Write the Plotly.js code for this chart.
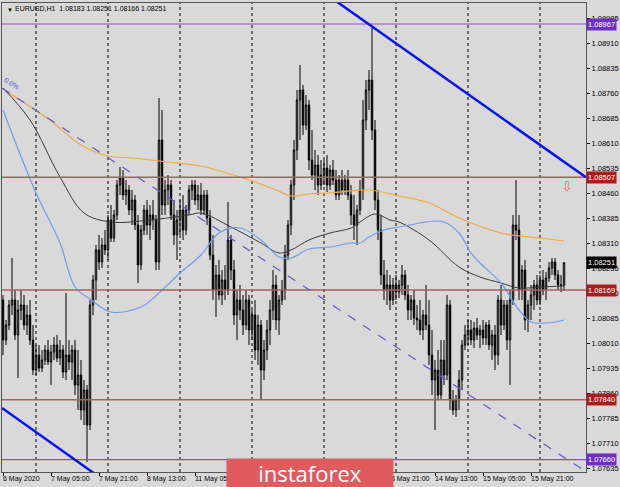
<!DOCTYPE html>
<html><head><meta charset="utf-8">
<script src="https://cdn.plot.ly/plotly-3.0.1.min.js"></script>
<style>html,body{margin:0;padding:0;background:#d9d9d9;}#chart{width:620px;height:487px;}</style>
</head><body><div id="chart"></div>
<script>
// EURUSD H1 candles, 6 May 2020 13:00 -> 18 May 2020 08:00 (bar index 0..187)
const openP = [1.08139,1.08019,1.08064,1.08124,1.08139,1.08034,1.08109,1.08124,1.08064,1.08094,
1.08019,1.07929,1.07974,1.07935,1.07959,1.07989,1.07953,1.07983,1.08004,1.07965,
1.07989,1.07923,1.07974,1.07953,1.07989,1.07884,1.07914,1.07809,1.07869,1.07764,
1.08124,1.08199,1.08289,1.08253,1.08304,1.08289,1.08379,1.08325,1.08394,1.08484,
1.08505,1.08454,1.08469,1.08409,1.08439,1.08364,1.08244,1.08349,1.08409,1.08364,
1.08394,1.08379,1.08253,1.08619,1.08424,1.08469,1.08484,1.08394,1.08334,1.08379,
1.08409,1.08349,1.08409,1.08469,1.08484,1.08439,1.08454,1.08409,1.08454,1.08385,
1.08274,1.08169,1.08214,1.08154,1.08199,1.08169,1.08319,1.08229,1.08094,1.08139,
1.08109,1.08064,1.08139,1.08049,1.08094,1.07989,1.08064,1.07929,1.07989,1.08049,
1.08109,1.08184,1.08079,1.08139,1.08169,1.08274,1.08364,1.08484,1.08589,1.08739,
1.08769,1.08664,1.08724,1.08559,1.08514,1.08544,1.08484,1.08514,1.08535,1.08484,
1.08529,1.08499,1.08454,1.08499,1.08469,1.08499,1.08454,1.08394,1.08364,1.08409,
1.08469,1.08679,1.08769,1.08799,1.08649,1.08439,1.08349,1.08214,1.08169,1.08184,
1.08139,1.08184,1.08163,1.08184,1.08214,1.08154,1.08109,1.08139,1.08085,1.08079,
1.08049,1.08094,1.08064,1.07974,1.07899,1.07929,1.07854,1.07959,1.07914,1.08124,
1.07839,1.07809,1.07839,1.07899,1.08004,1.08034,1.08049,1.08019,1.08055,1.08034,
1.08049,1.08025,1.08064,1.08004,1.08034,1.07974,1.08139,1.08064,1.08124,1.08019,
1.08139,1.08364,1.08349,1.08169,1.08229,1.08079,1.08124,1.08154,1.08184,1.08139,
1.08199,1.08169,1.08205,1.08235,1.08253,1.08214,1.08184,1.08183];
const highP = [1.08154,1.08079,1.08139,1.08265,1.08169,1.08139,1.08169,1.08154,1.08124,1.08139,
1.08064,1.08004,1.08004,1.07989,1.08004,1.08019,1.08004,1.08028,1.08034,1.08019,
1.08004,1.08160,1.08019,1.08004,1.08019,1.07989,1.07959,1.07899,1.07884,1.08139,
1.08214,1.08304,1.08334,1.08325,1.08349,1.08394,1.08424,1.08409,1.08499,1.08538,
1.08529,1.08499,1.08484,1.08469,1.08454,1.08394,1.08364,1.08424,1.08439,1.08424,
1.08439,1.08394,1.08745,1.08709,1.08499,1.08514,1.08499,1.08439,1.08409,1.08439,
1.08454,1.08424,1.08484,1.08499,1.08499,1.08484,1.08490,1.08469,1.08469,1.08409,
1.08334,1.08244,1.08259,1.08229,1.08244,1.08433,1.08334,1.08259,1.08169,1.08184,
1.08154,1.08169,1.08154,1.08109,1.08139,1.08094,1.08079,1.08019,1.08079,1.08139,
1.08229,1.08214,1.08154,1.08199,1.08304,1.08379,1.08499,1.08619,1.08769,1.08844,
1.08784,1.08754,1.08739,1.08649,1.08589,1.08574,1.08559,1.08559,1.08574,1.08544,
1.08559,1.08529,1.08514,1.08529,1.08514,1.08529,1.08484,1.08454,1.08424,1.08499,
1.08739,1.08799,1.08829,1.08955,1.08679,1.08469,1.08394,1.08259,1.08229,1.08214,
1.08205,1.08214,1.08199,1.08244,1.08229,1.08184,1.08154,1.08169,1.08124,1.08139,
1.08109,1.08184,1.08139,1.08049,1.07959,1.07989,1.08019,1.08019,1.08154,1.08139,
1.07869,1.07854,1.07929,1.08019,1.08064,1.08079,1.08079,1.08073,1.08085,1.08064,
1.08079,1.08073,1.08079,1.08049,1.08064,1.08154,1.08184,1.08139,1.08139,1.08169,
1.08394,1.08499,1.08394,1.08244,1.08259,1.08139,1.08184,1.08199,1.08214,1.08214,
1.08229,1.08223,1.08253,1.08265,1.08265,1.08229,1.08214,1.08251];
const lowP = [1.07974,1.08004,1.08049,1.08094,1.08019,1.07905,1.08079,1.08049,1.08034,1.08004,
1.07914,1.07914,1.07923,1.07923,1.07944,1.07944,1.07884,1.07959,1.07953,1.07944,
1.07905,1.07899,1.07929,1.07899,1.07854,1.07809,1.07779,1.07764,1.07653,1.07749,
1.08094,1.08139,1.08229,1.08235,1.08274,1.08259,1.08313,1.08313,1.08379,1.08454,
1.08439,1.08424,1.08394,1.08364,1.08349,1.08190,1.08229,1.08334,1.08334,1.08319,
1.08349,1.08229,1.08229,1.08394,1.08394,1.08424,1.08379,1.08304,1.08259,1.08334,
1.08319,1.08334,1.08394,1.08439,1.08424,1.08409,1.08394,1.08394,1.08364,1.08259,
1.08139,1.08088,1.08139,1.08124,1.08139,1.08154,1.08199,1.08064,1.08019,1.08079,
1.08034,1.08049,1.08004,1.08019,1.07959,1.07944,1.07839,1.07899,1.07959,1.08004,
1.08079,1.08049,1.08034,1.08124,1.08139,1.08259,1.08334,1.08439,1.08559,1.08619,
1.08634,1.08649,1.08529,1.08499,1.08469,1.08454,1.08469,1.08484,1.08463,1.08469,
1.08484,1.08439,1.08439,1.08454,1.08454,1.08439,1.08364,1.08319,1.08304,1.08394,
1.08439,1.08649,1.08709,1.08619,1.08409,1.08319,1.08184,1.08139,1.08124,1.08109,
1.08124,1.08139,1.08145,1.08154,1.08139,1.08079,1.08079,1.08064,1.08049,1.08034,
1.08019,1.08049,1.07944,1.07854,1.07749,1.07839,1.07839,1.07884,1.07899,1.07809,
1.07794,1.07788,1.07809,1.07869,1.07989,1.08004,1.08004,1.07995,1.08019,1.07995,
1.08004,1.08004,1.07989,1.07959,1.07929,1.07944,1.08034,1.08049,1.07989,1.07884,
1.08124,1.08319,1.08139,1.08139,1.08049,1.08043,1.08079,1.08109,1.08124,1.08124,
1.08154,1.08139,1.08193,1.08214,1.08199,1.08169,1.08163,1.08166];
const closeP = [1.08019,1.08064,1.08124,1.08139,1.08034,1.08109,1.08124,1.08064,1.08094,1.08019,
1.07929,1.07974,1.07935,1.07959,1.07989,1.07953,1.07983,1.08004,1.07965,1.07989,
1.07923,1.07974,1.07953,1.07989,1.07884,1.07914,1.07809,1.07869,1.07764,1.08124,
1.08199,1.08289,1.08253,1.08304,1.08289,1.08379,1.08325,1.08394,1.08484,1.08505,
1.08454,1.08469,1.08409,1.08439,1.08364,1.08244,1.08349,1.08409,1.08364,1.08394,
1.08379,1.08253,1.08619,1.08424,1.08469,1.08484,1.08394,1.08334,1.08379,1.08409,
1.08349,1.08409,1.08469,1.08484,1.08439,1.08454,1.08409,1.08454,1.08385,1.08274,
1.08169,1.08214,1.08154,1.08199,1.08169,1.08319,1.08229,1.08094,1.08139,1.08109,
1.08064,1.08139,1.08049,1.08094,1.07989,1.08064,1.07929,1.07989,1.08049,1.08109,
1.08184,1.08079,1.08139,1.08169,1.08274,1.08364,1.08484,1.08589,1.08739,1.08769,
1.08664,1.08724,1.08559,1.08514,1.08544,1.08484,1.08514,1.08535,1.08484,1.08529,
1.08499,1.08454,1.08499,1.08469,1.08499,1.08454,1.08394,1.08364,1.08409,1.08469,
1.08679,1.08769,1.08799,1.08649,1.08439,1.08349,1.08214,1.08169,1.08184,1.08139,
1.08184,1.08163,1.08184,1.08214,1.08154,1.08109,1.08139,1.08085,1.08079,1.08049,
1.08094,1.08064,1.07974,1.07899,1.07929,1.07854,1.07959,1.07914,1.08124,1.07839,
1.07809,1.07839,1.07899,1.08004,1.08034,1.08049,1.08019,1.08055,1.08034,1.08049,
1.08025,1.08064,1.08004,1.08034,1.07974,1.08139,1.08064,1.08124,1.08019,1.08139,
1.08364,1.08349,1.08169,1.08229,1.08079,1.08124,1.08154,1.08184,1.08139,1.08199,
1.08169,1.08205,1.08235,1.08253,1.08214,1.08184,1.08183,1.08251];

// Moving averages (bar index, price)
const maSlowX = [0,16,26,35,43,55,66,82,91,96,102,109,122,132,142,152,166,179,187];
const maSlowY = [1.08772,1.08676,1.08604,1.08571,1.08565,1.08553,1.08541,1.08499,1.08469,1.08451,1.08457,1.08460,1.08469,1.08451,1.08430,1.08385,1.08340,1.08325,1.08316];
const maMidX = [0,9,19,27,36,49,62,66,76,86,92,96,102,109,116,119,124,129,132,142,152,159,166,172,179,187];
const maMidY = [1.08775,1.08679,1.08508,1.08400,1.08373,1.08379,1.08394,1.08400,1.08358,1.08310,1.08280,1.08289,1.08319,1.08340,1.08355,1.08373,1.08397,1.08379,1.08373,1.08319,1.08238,1.08208,1.08190,1.08175,1.08178,1.08181];
const maFastX = [0,11,19,24,29,36,46,52,59,66,72,79,86,92,96,102,109,116,119,122,127,132,139,144,147,152,156,159,166,172,176,181,184,187];
const maFastY = [1.08709,1.08460,1.08310,1.08178,1.08142,1.08103,1.08118,1.08160,1.08220,1.08274,1.08340,1.08355,1.08319,1.08268,1.08265,1.08292,1.08298,1.08310,1.08310,1.08328,1.08349,1.08358,1.08370,1.08376,1.08373,1.08340,1.08280,1.08250,1.08190,1.08109,1.08073,1.08070,1.08073,1.08079];

// Levels
const resLevels = [1.08507, 1.08169, 1.07840];
const purpleLevels = [1.08967, 1.07660];
const lastPrice = 1.08251;

// Axis ticks
const yTicks = [1.07635,1.07710,1.07785,1.07860,1.07935,1.08010,1.08085,1.08160,1.08235,1.08310,1.08385,1.08460,1.08535,1.08610,1.08685,1.08760,1.08835,1.08910,1.08985];
const xTickBars = [0,16,32,48,64,80,96,112,128,144,160,176];
const xLabelBars = [0,16,32,48,64,128,144,160,176];
const xLabels = ["6 May 2020","7 May 05:00","7 May 21:00","8 May 13:00","11 May 05:00","13 May 21:00","14 May 13:00","15 May 05:00","15 May 21:00"];
const dayStartBars = [11,35,59,83,107,131,155,179];

const bars = openP.map((_, i) => i);
const FONT = 'Liberation Sans, Arial, sans-serif';

const traces = [
  {type:'scatter', mode:'lines', x:maSlowX, y:maSlowY, line:{color:'#f2a93b', width:1.2, shape:'spline'}, hoverinfo:'skip'},
  {type:'scatter', mode:'lines', x:maMidX, y:maMidY, line:{color:'#3a3a3a', width:1, shape:'spline'}, hoverinfo:'skip'},
  {type:'scatter', mode:'lines', x:maFastX, y:maFastY, line:{color:'#6e9cf0', width:1.2, shape:'spline'}, hoverinfo:'skip'},
  {type:'candlestick', x:bars, open:openP, high:highP, low:lowP, close:closeP,
   increasing:{line:{color:'#000', width:1}, fillcolor:'#bdbdbd'},
   decreasing:{line:{color:'#000', width:1}, fillcolor:'#000'},
   whiskerwidth:0, hoverinfo:'skip'}
];

const shapes = [];
dayStartBars.forEach(b => shapes.push({type:'line', xref:'x', yref:'paper', x0:b, x1:b, y0:0, y1:1, layer:'below', line:{color:'#000', width:1, dash:'dot'}}));
resLevels.forEach(v => shapes.push({type:'line', xref:'paper', yref:'y', x0:0, x1:1, y0:v, y1:v, line:{color:'#b45a5a', width:1.5}}));
purpleLevels.forEach(v => shapes.push({type:'line', xref:'paper', yref:'y', x0:0, x1:1, y0:v, y1:v, line:{color:'#8a4fd0', width:1.2}}));
// trend lines
shapes.push({type:'line', xref:'x', yref:'y', x0:-0.33, y0:1.08775, x1:195, y1:1.07620, line:{color:'#5b5bc8', width:1.2, dash:'dash'}});
shapes.push({type:'line', xref:'x', yref:'y', x0:110, y0:1.09042, x1:194.3, y1:1.08507, line:{color:'#0a14f0', width:2.5}});
shapes.push({type:'line', xref:'x', yref:'y', x0:-0.33, y0:1.07815, x1:31, y1:1.07615, line:{color:'#0a14f0', width:2.5}});

const annotations = [];
annotations.push({xref:'paper', yref:'paper', x:0, y:1, xanchor:'left', yanchor:'top', xshift:3, yshift:-2, showarrow:false, text:'▼', font:{family:FONT, size:6, color:'#000'}});
annotations.push({xref:'paper', yref:'paper', x:0, y:1, xanchor:'left', yanchor:'top', xshift:11, yshift:0, showarrow:false, text:'EURUSD,H1  1.08183 1.08251 1.08166 1.08251', font:{family:FONT, size:7, color:'#000'}});
xLabelBars.forEach((b, k) => annotations.push({xref:'x', yref:'paper', x:b, y:0, xanchor:'left', yanchor:'top', xshift:-2, yshift:-1, showarrow:false, text:xLabels[k], font:{family:FONT, size:7, color:'#000'}}));
annotations.push({xref:'x', yref:'y', x:3, y:1.08790, xanchor:'center', yanchor:'middle', showarrow:false, textangle:32, text:'0.0%', font:{family:FONT, size:7, color:'#4b4bd0'}});
annotations.push({xref:'x', yref:'y', x:188, y:1.08480, xanchor:'center', yanchor:'middle', showarrow:false, text:'⇩', font:{family:'DejaVu Sans', size:14, color:'#f06a6a'}});
const boxes = [[1.08967,'#6f2fc4'],[1.08507,'#a81e1e'],[lastPrice,'#000000'],[1.08169,'#a81e1e'],[1.07840,'#a81e1e'],[1.07660,'#6f2fc4']];
boxes.forEach(([v,c]) => annotations.push({xref:'paper', yref:'y', x:1, y:v, xanchor:'left', yanchor:'middle', xshift:0, showarrow:false, text:v.toFixed(5), bgcolor:c, borderpad:1, font:{family:FONT, size:7.5, color:'#fff'}}));
annotations.push({xref:'paper', yref:'paper', x:0.527, y:-0.002, xanchor:'center', yanchor:'middle', showarrow:false, text:'instaforex', width:164, height:26, bgcolor:'#e05b5d', font:{family:'Open Sans, sans-serif', size:22, color:'#fff'}});

const layout = {
  width:620, height:487, margin:{l:2, r:34, t:3, b:15},
  paper_bgcolor:'#d9d9d9', plot_bgcolor:'#d9d9d9', showlegend:false,
  xaxis:{range:[-0.333,194.333], showgrid:false, zeroline:false, showline:true, linecolor:'#555', mirror:true,
         ticks:'outside', ticklen:3, tickcolor:'#000', tickvals:xTickBars, showticklabels:false,
         rangeslider:{visible:false}, fixedrange:true},
  yaxis:{range:[1.07623,1.09030], side:'right', showgrid:false, zeroline:false, showline:true, linecolor:'#555', mirror:true,
         ticks:'outside', ticklen:3, tickcolor:'#000', tickvals:yTicks, ticktext:yTicks.map(v=>v.toFixed(5)),
         tickfont:{family:FONT, size:7.5, color:'#000'}, fixedrange:true},
  shapes, annotations
};
Plotly.newPlot('chart', traces, layout, {displayModeBar:false, staticPlot:true});
</script></body></html>
